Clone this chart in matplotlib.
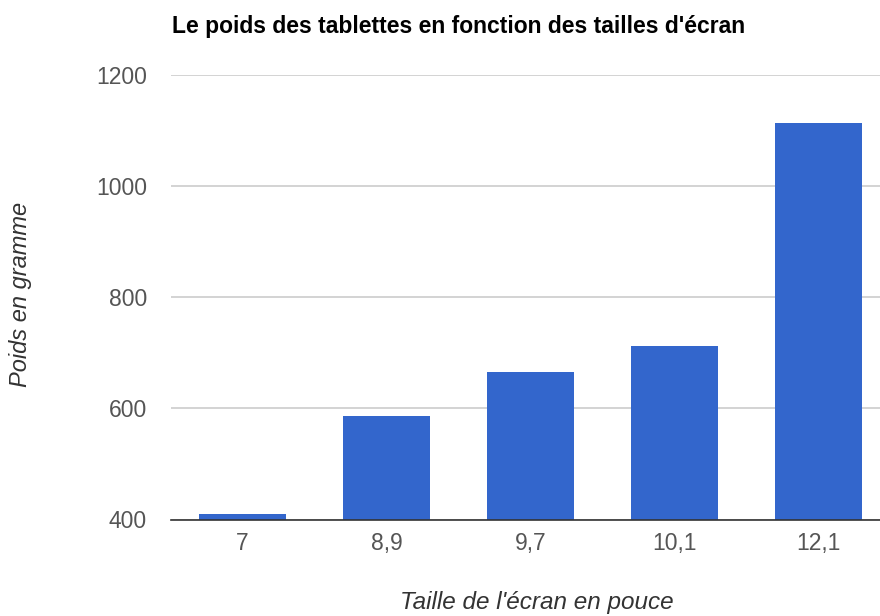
import matplotlib
matplotlib.use('Agg')
from matplotlib import pyplot as plt

tailles = ['7', '8,9', '9,7', '10,1', '12,1']
poids = [410, 586, 666, 712, 1113]
yticks = [400, 600, 800, 1000, 1200]

plt.rcParams['font.family'] = ['Liberation Sans', 'DejaVu Sans']

fig = plt.figure(figsize=(8.8, 6.16), dpi=100)
ax = fig.add_axes([170.5/880, 96.5/616, 720/880, 444.5/616])

x = range(len(tailles))
ax.bar(x, poids, width=0.6, color='#3366cc', zorder=3)
ax.set_xlim(-0.5, len(tailles) - 0.5)
ax.set_ylim(400, 1200)
ax.set_yticks(yticks)
ax.set_xticks(list(x))
ax.set_xticklabels(tailles)
ax.yaxis.grid(True, color='#cccccc', linewidth=1.2, zorder=0)
ax.tick_params(length=0, labelsize=16.5, colors='#555555')
ax.tick_params(axis='x', pad=9)
ax.tick_params(axis='y', pad=17)
for s in ['top', 'right', 'left']:
    ax.spines[s].set_visible(False)
ax.spines['bottom'].set_color('#333333')
ax.spines['bottom'].set_linewidth(1.2)
ax.spines['bottom'].set_zorder(4)

fig.text(172/880, 1 - 33/616, "Le poids des tablettes en fonction des tailles d'écran",
         fontsize=16.5, fontweight='bold', color='#000000', va='baseline', ha='left')
fig.text(21/880, 1 - 294/616, 'Poids en gramme', rotation=90, fontsize=17,
         style='italic', color='#333333', va='center', ha='center')
fig.text(537/880, 1 - 603/616, "Taille de l'écran en pouce", fontsize=17.5,
         style='italic', color='#333333', va='center', ha='center')

fig.savefig('out.png', dpi=100)
